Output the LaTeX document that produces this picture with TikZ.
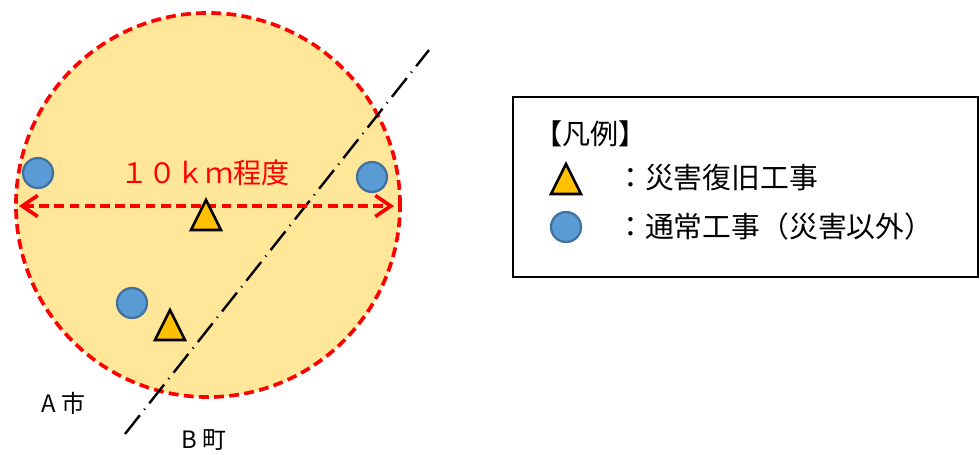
\documentclass[tikz,border=0pt]{standalone}
\usepackage{fontspec}
\setmainfont{Noto Sans CJK JP}
\usetikzlibrary{arrows.meta}

\definecolor{zonefill}{HTML}{FFE699}
\definecolor{zonered}{HTML}{FF0000}
\definecolor{normblue}{HTML}{5B9BD5}
\definecolor{normedge}{HTML}{41719C}
\definecolor{repairorange}{HTML}{FFC000}

\tikzset{
  normal/.style={circle, fill=normblue, draw=normedge, line width=1.6pt,
    minimum size=0.75cm, inner sep=0pt},
  repair/.pic={\draw[fill=repairorange, line width=1.8pt]
    (0,-15) -- (15,15) -- (-15,15) -- cycle;},
  lbl/.style={font=\fontsize{20pt}{23pt}\selectfont, inner sep=0pt},
  redash/.style={draw=zonered, line width=2.6pt, dash pattern=on 7pt off 3.8pt},
}

\begin{document}
\begin{tikzpicture}[x=0.025cm, y=-0.025cm]
    \useasboundingbox (0,0) rectangle (980,454);

    % 10 km zone
    \node[circle, fill=zonefill, redash, minimum size=9.6cm, inner sep=0pt]
        (zone) at (208,205) {};

    % border between the two towns
    \coordinate (bndS) at (125,434);
    \coordinate (bndN) at (429,50);
    \draw[line width=1.7pt, dash pattern=on 17pt off 5pt on 0.8pt off 5pt]
        (bndS) -- (bndN);

    % distance arrow and its label
    \coordinate (arrL) at (19,206);
    \coordinate (arrR) at (394,206);
    \draw[redash,
          {Straight Barb[length=11pt, width=15pt]}-{Straight Barb[length=11pt, width=15pt]}]
        (arrL) -- (arrR);
    \node[lbl, text=zonered] (dist) at (205,173) {１０ｋｍ程度};

    % works inside the zone
    \node[normal] (n1) at (38,173) {};
    \node[normal] (n2) at (372,177) {};
    \node[normal] (n3) at (132,303) {};
    \pic (r1) at (206,215) {repair};
    \pic (r2) at (170,325) {repair};

    % town names
    \node[lbl, font=\fontsize{17pt}{20pt}\selectfont, anchor=west] (townA) at (41,403) {A 市};
    \node[lbl, font=\fontsize{17pt}{20pt}\selectfont, anchor=west] (townB) at (181,440) {B 町};

    % legend
    \node[draw, line width=0.9pt, minimum width=11.625cm, minimum height=4.5cm,
          inner sep=0pt] (legend) at (745.5,187) {};
    \node[lbl, anchor=west] (legTitle) at (534,134) {【凡例】};
    \pic (legR) at (566,179) {repair};
    \node[lbl, font=\fontsize{20.5pt}{23pt}\selectfont, anchor=west] (legRtxt) at (616,178) {：災害復旧工事};
    \node[normal] (legN) at (566,227) {};
    \node[lbl, font=\fontsize{20.5pt}{23pt}\selectfont, anchor=west] (legNtxt) at (616,227) {：通常工事（災害以外）};
\end{tikzpicture}
\end{document}
